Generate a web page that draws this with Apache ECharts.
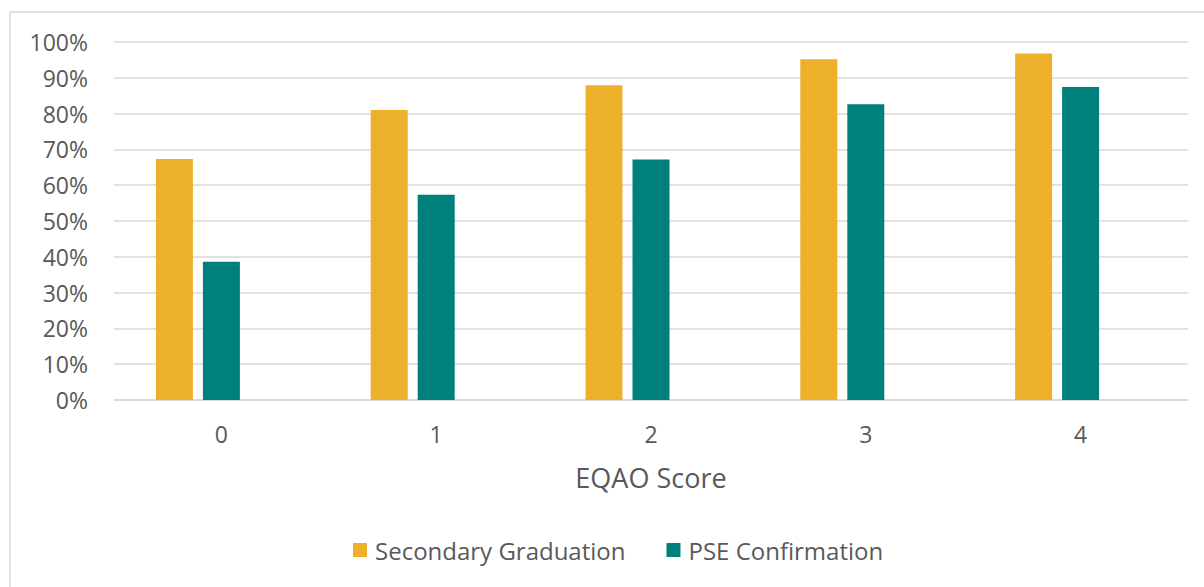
<!DOCTYPE html>
<html>
<head>
<meta charset="utf-8">
<script src="https://cdn.jsdelivr.net/npm/echarts@6/dist/echarts.min.js"></script>
<style>
  html, body { margin: 0; padding: 0; background: #fff; }
  #chart { width: 1204px; height: 587px; }
</style>
</head>
<body>
<div id="chart"></div>
<script>
const scores = ['0', '1', '2', '3', '4'];
const secondaryGraduation = [67.3, 81.0, 87.9, 95.2, 96.8];
const pseConfirmation = [38.6, 57.3, 67.2, 82.6, 87.4];
// the source chart keeps a third, empty slot in each group
const emptySlot = [null, null, null, null, null];

const textColor = '#595959';
const font = '"Open Sans", sans-serif';

const chart = echarts.init(document.getElementById('chart'), null, { renderer: 'svg' });

chart.setOption({
  animation: false,
  textStyle: { fontFamily: font },
  graphic: [
    {
      type: 'rect',
      shape: { x: 10, y: 12, width: 1300, height: 700 },
      style: { fill: 'none', stroke: '#d9d9d9', lineWidth: 1.5 },
      silent: true,
    },
  ],
  grid: {
    left: 114,
    right: 16,
    top: 42,
    bottom: 187,
  },
  legend: {
    left: 348,
    top: 533,
    itemWidth: 14,
    itemHeight: 14,
    itemGap: 41,
    icon: 'rect',
    textStyle: { color: textColor, fontSize: 24, fontFamily: font, padding: [0, 0, 0, 3] },
    data: ['Secondary Graduation', 'PSE Confirmation'],
  },
  xAxis: {
    type: 'category',
    data: scores,
    name: 'EQAO Score',
    nameLocation: 'middle',
    nameGap: 64,
    nameTextStyle: { color: textColor, fontSize: 27, fontFamily: font },
    axisLine: { lineStyle: { color: '#d9d9d9', width: 1.5 } },
    axisTick: { show: false },
    axisLabel: { color: textColor, fontSize: 23, margin: 22, fontFamily: font },
  },
  yAxis: {
    type: 'value',
    min: 0,
    max: 100,
    interval: 10,
    axisLine: { show: false },
    axisTick: { show: false },
    axisLabel: {
      color: textColor,
      fontSize: 23,
      margin: 26,
      fontFamily: font,
      formatter: '{value}%',
    },
    splitLine: { lineStyle: { color: '#d9d9d9', width: 1.5 } },
  },
  series: [
    {
      name: 'Secondary Graduation',
      type: 'bar',
      data: secondaryGraduation,
      barWidth: 37,
      barGap: '27%',
      itemStyle: { color: '#EDB02A' },
    },
    {
      name: 'PSE Confirmation',
      type: 'bar',
      data: pseConfirmation,
      barWidth: 37,
      itemStyle: { color: '#00807D' },
    },
    {
      name: 'empty',
      type: 'bar',
      data: emptySlot,
      barWidth: 37,
    },
  ],
});
</script>
</body>
</html>
